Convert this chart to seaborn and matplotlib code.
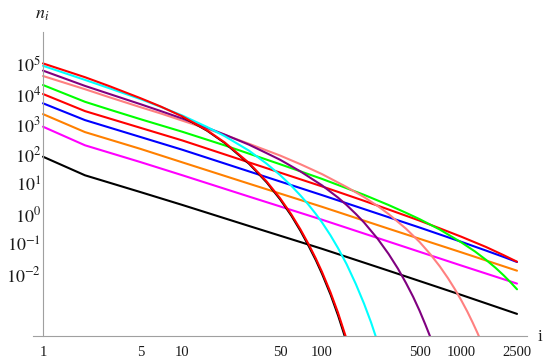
import numpy as np
import matplotlib
matplotlib.use("Agg")
import matplotlib.pyplot as plt
import seaborn as sns

# ---- data (log10 of n_i) ----
i_power = [1, 2, 5, 10, 30, 100, 300, 1000, 2500]
black_log = [1.91, 1.29, 0.73, 0.30, -0.40, -1.16, -1.89, -2.70, -3.33]
magenta_log = [2.91, 2.29, 1.73, 1.29, 0.58, -0.19, -0.92, -1.72, -2.32]
orange_log = [3.33, 2.73, 2.17, 1.72, 1.01, 0.24, -0.49, -1.28, -1.89]

i_blue = [1, 2, 10, 100, 500, 1000, 1500, 2000, 2500]
blue_log = [3.69, 3.13, 2.14, 0.63, -0.45, -0.93, -1.22, -1.43, -1.60]

i_red2 = [1, 2, 10, 30, 100, 200, 300, 500, 700, 1000, 1500, 2000, 2500]
red2_log = [4.00, 3.43, 2.45, 1.72, 0.92, 0.44, 0.15, -0.22, -0.48, -0.76, -1.10, -1.37, -1.59]

i_green = [1, 2, 3, 5, 10, 20, 50, 100, 200, 300, 400, 500, 700, 1000, 1250, 1500, 1750, 2000, 2250, 2500]
green_log = [4.30, 3.74, 3.48, 3.16, 2.74, 2.29, 1.66, 1.17, 0.64, 0.30, 0.04, -0.17, -0.52, -0.95,
             -1.25, -1.53, -1.79, -2.04, -2.28, -2.51]

i_salmon = [1, 2, 3, 5, 7, 10, 15, 20, 30, 50, 70, 100, 150, 200, 250, 300, 400, 500, 600, 700, 800,
            900, 1000, 1100, 1200, 1300, 1400]
salmon_log = [4.60, 4.16, 3.89, 3.56, 3.35, 3.11, 2.84, 2.64, 2.34, 1.95, 1.66, 1.33, 0.90, 0.565, 0.27,
              0.0, -0.49, -0.93, -1.35, -1.75, -2.14, -2.52, -2.89, -3.25, -3.61, -3.96, -4.31]

i_purple = [1, 2, 3, 5, 7, 10, 15, 20, 30, 40, 50, 70, 100, 130, 150, 175, 200, 250, 300, 350, 400,
            450, 500, 550, 600, 650]
purple_log = [4.78, 4.27, 4.00, 3.66, 3.43, 3.18, 2.875, 2.65, 2.31, 2.03, 1.81, 1.42, 0.955, 0.55,
              0.30, 0.00, -0.28, -0.82, -1.33, -1.82, -2.30, -2.76, -3.22, -3.68, -4.12, -4.57]

i_cyan = [1, 2, 3, 5, 7, 10, 15, 20, 30, 40, 50, 60, 70, 80, 90, 100, 115, 130, 150, 175, 200, 225, 250]
cyan_log = [4.94, 4.47, 4.19, 3.83, 3.57, 3.28, 2.90, 2.60, 2.11, 1.68, 1.30, 0.95, 0.62, 0.31, 0.01,
            -0.28, -0.71, -1.13, -1.67, -2.34, -2.985, -3.62, -4.26]

i_red = [1, 2, 3, 5, 7, 10, 15, 20, 30, 40, 50, 60, 70, 80, 90, 100, 115, 130, 150]
red_log = [5.02, 4.56, 4.26, 3.86, 3.58, 3.25, 2.79, 2.39, 1.70, 1.09, 0.53, 0.00, -0.51, -1.00,
           -1.47, -1.93, -2.61, -3.28, -4.17]

i_edge = [10, 15, 20, 30, 40, 50, 60, 70, 80, 90, 100, 115, 130, 150]
edge_log = [3.23, 2.765, 2.36, 1.66, 1.045, 0.475, -0.06, -0.58, -1.08, -1.55, -2.02, -2.71, -3.40, -4.30]

x_ticks = [1, 5, 10, 50, 100, 500, 1000, 2500]
y_tick_exps = [5, 4, 3, 2, 1, 0, -1, -2]

series = [
    (i_power, black_log, "#000000"),
    (i_power, magenta_log, "#FF00FF"),
    (i_power, orange_log, "#FF8000"),
    (i_blue, blue_log, "#0000FF"),
    (i_red2, red2_log, "#FF0000"),
    (i_green, green_log, "#00FF00"),
    (i_salmon, salmon_log, "#FF8080"),
    (i_purple, purple_log, "#800080"),
    (i_cyan, cyan_log, "#00FFFF"),
    (i_edge, edge_log, "#000000"),
    (i_red, red_log, "#FF0000"),
]

sns.set_style("white")
plt.rcParams["font.family"] = ["Liberation Serif", "DejaVu Serif"]
plt.rcParams["mathtext.fontset"] = "stix"

fig = plt.figure(figsize=(5.5, 3.63), dpi=100)
ax = fig.add_axes([33 / 550, 1 - 336 / 363, (527 - 33) / 550, (336 - 32) / 363])
ax.set_xscale("log")
ax.set_yscale("log")

for k, (xs, ls, col) in enumerate(series):
    lw = 1.0 if k == 9 else 1.5
    sns.lineplot(x=xs, y=np.power(10.0, ls), color=col, linewidth=lw, ax=ax,
                 estimator=None, sort=False)

ax.set_xlim(10 ** (-10 / 139.5), 10 ** (484 / 139.5))
ax.set_ylim(10 ** (-4.067), 10 ** (6.067))

axis_col = "#A0A0A0"
for s in ["top", "right"]:
    ax.spines[s].set_visible(False)
ax.spines["left"].set_position(("data", 1))
for s in ["left", "bottom"]:
    ax.spines[s].set_color(axis_col)
    ax.spines[s].set_linewidth(0.8)

ax.set_xticks(x_ticks)
ax.set_xticklabels([str(t) for t in x_ticks])
ax.set_yticks([10.0 ** e for e in y_tick_exps])
ax.set_yticklabels([r"$10^{%d}$" % e for e in y_tick_exps])
ax.minorticks_off()
ax.tick_params(axis="both", direction="in", length=4, width=0.8, color=axis_col,
               labelcolor="#1a1a1a")
ax.tick_params(axis="x", labelsize=10.5, pad=7)
ax.tick_params(axis="y", labelsize=13, pad=1.5)

fig.text(42 / 550, 1 - 14 / 363, r"$n_i$", ha="center", va="center", fontsize=13, color="#1a1a1a")
fig.text(540 / 550, 1 - 337 / 363, "i", ha="center", va="center", fontsize=12, color="#1a1a1a")

fig.savefig("out.png", dpi=100)
